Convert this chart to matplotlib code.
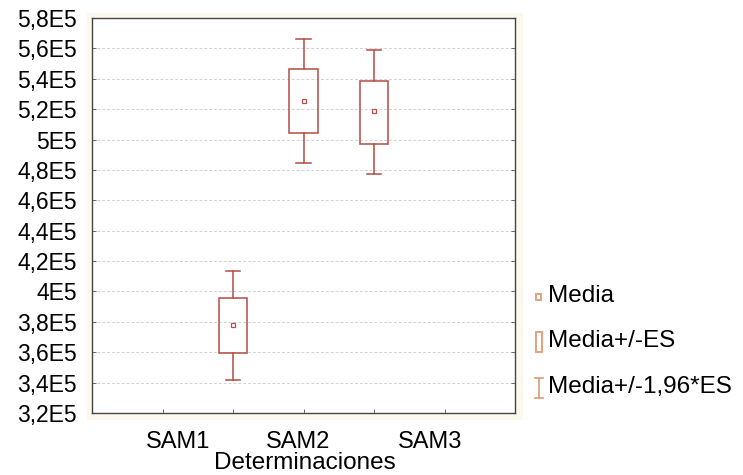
"""Box plot of mean, +/- ES and +/- 1.96*ES by determination (Statistica style)."""

import matplotlib
matplotlib.use("Agg")
import matplotlib.pyplot as plt
from matplotlib.patches import Rectangle
from matplotlib.ticker import FixedLocator, FuncFormatter

plt.rcParams["font.family"] = ["Liberation Sans", "DejaVu Sans"]

GROUPS = ["SAM1", "SAM2", "SAM3"]
MEAN = [3.777e5, 5.252e5, 5.186e5]
ES_LOW = [3.594e5, 5.043e5, 4.972e5]
ES_HIGH = [3.955e5, 5.462e5, 5.383e5]
CI_LOW = [3.417e5, 4.844e5, 4.771e5]
CI_HIGH = [4.133e5, 5.664e5, 5.587e5]
POSITIONS = [2, 3, 4]
LABEL_X = [1.22, 2.92, 4.79]
Y_TICKS = [3.2e5 + 0.2e5 * i for i in range(14)]
LEGEND_LABELS = ["Media", "Media+/-ES", "Media+/-1,96*ES"]

BOX_COLOR = "#b4524a"
LEGEND_COLOR = "#e2a27e"


def fmt_e5(value, _pos):
    mant = value / 1e5
    text = f"{mant:.1f}".rstrip("0").rstrip(".")
    return text.replace(".", ",") + "E5"


fig = plt.figure(figsize=(7.43, 4.75), dpi=100)
W, H = 743, 475
left, right, top, bottom = 92, 515, 18, 413
ax = fig.add_axes([left / W, 1 - bottom / H, (right - left) / W, (bottom - top) / H])
ax.set_zorder(2)

# beige surround behind the plot area
fig.patches.append(Rectangle((87 / W, 1 - 420 / H), (523 - 87) / W, (420 - 13) / H,
                             transform=fig.transFigure, facecolor="#fdf8ee",
                             edgecolor="none", zorder=0))
ax.set_facecolor("white")

box_w = 0.4
cap_w = 0.2
lw = 1.15
for x, m, el, eh, cl, ch in zip(POSITIONS, MEAN, ES_LOW, ES_HIGH, CI_LOW, CI_HIGH):
    ax.add_patch(Rectangle((x - box_w / 2, el), box_w, eh - el, facecolor="none",
                           edgecolor=BOX_COLOR, linewidth=lw, zorder=3))
    ax.plot([x, x], [eh, ch], color=BOX_COLOR, lw=lw, zorder=3)
    ax.plot([x, x], [cl, el], color=BOX_COLOR, lw=lw, zorder=3)
    ax.plot([x - cap_w / 2, x + cap_w / 2], [ch, ch], color=BOX_COLOR, lw=lw, zorder=3)
    ax.plot([x - cap_w / 2, x + cap_w / 2], [cl, cl], color=BOX_COLOR, lw=lw, zorder=3)
    ax.plot([x], [m], marker="s", ms=3.4, mfc="white", mec=BOX_COLOR, mew=0.9, zorder=4)

ax.set_xlim(0, 6)
ax.set_ylim(3.2e5, 5.8e5)
ax.yaxis.set_major_locator(FixedLocator(Y_TICKS))
ax.yaxis.set_major_formatter(FuncFormatter(fmt_e5))
ax.set_xticks([1, 2, 3, 4, 5])
ax.set_xticklabels([])
ax.tick_params(axis="x", direction="in", length=3, width=0.6, color="#555555")
ax.tick_params(axis="y", direction="in", length=3, width=0.6, color="#555555",
               labelsize=16.5, pad=11, right=True)
ax.grid(axis="y", color="#d2d2d2", linestyle=(0, (3, 2)), linewidth=0.7)
ax.set_axisbelow(True)
for spine in ax.spines.values():
    spine.set_color("#444444")
    spine.set_linewidth(1.0)

for lx, name in zip(LABEL_X, GROUPS):
    ax.text(lx, -0.045, name, transform=ax.get_xaxis_transform(), ha="center",
            va="top", fontsize=17)
fig.text(305 / W, 1 - 463 / H, "Determinaciones", ha="center", va="center", fontsize=17.5)

# legend drawn by hand, Statistica style
ys = [296, 341, 387]
fig.patches.append(Rectangle((535.5 / W, 1 - 300 / H), 5 / W, 6 / H, transform=fig.transFigure,
                             facecolor="none", edgecolor=LEGEND_COLOR, lw=1.4))
fig.patches.append(Rectangle((536 / W, 1 - 352 / H), 6 / W, 20 / H, transform=fig.transFigure,
                             facecolor="none", edgecolor=LEGEND_COLOR, lw=1.4))
fig.lines.append(plt.Line2D([539 / W, 539 / W], [1 - 378 / H, 1 - 398 / H],
                            transform=fig.transFigure, color=LEGEND_COLOR, lw=1.3))
for yy in (378, 398):
    fig.lines.append(plt.Line2D([535 / W, 543 / W], [1 - yy / H, 1 - yy / H],
                                transform=fig.transFigure, color=LEGEND_COLOR, lw=1.3))
for yy, label in zip(ys, LEGEND_LABELS):
    fig.text(548 / W, 1 - yy / H, label, ha="left", va="center", fontsize=17.5)

fig.savefig("out.png", dpi=100)
